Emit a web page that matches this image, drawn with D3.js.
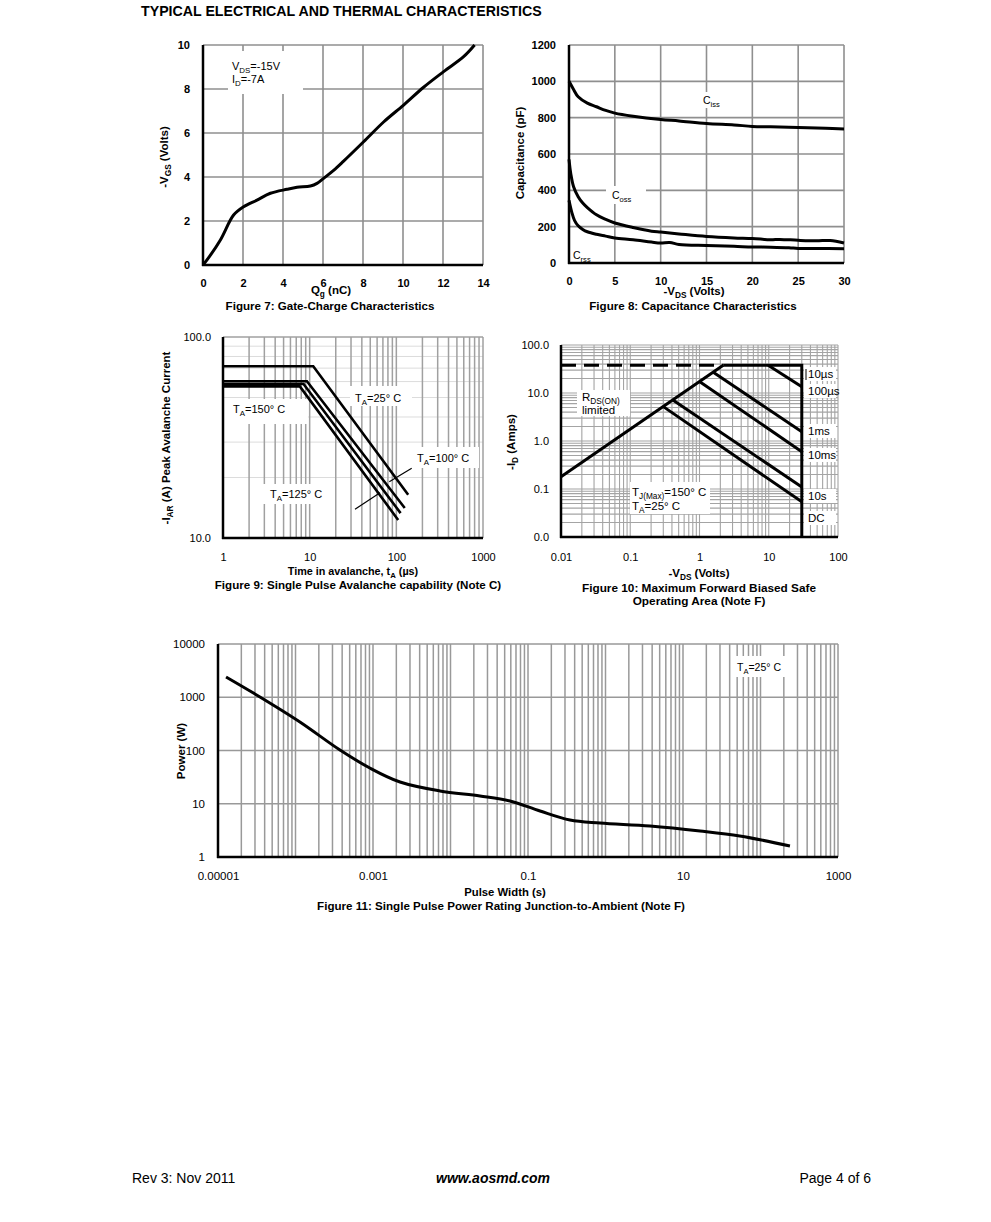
<!DOCTYPE html>
<html><head><meta charset="utf-8">
<script src="https://cdn.jsdelivr.net/npm/d3@7"></script>
<style>
body{margin:0;background:#fff;}
svg{display:block;}
text{white-space:pre;}
</style></head><body>
<svg id="c" width="991" height="1222"></svg>
<script>
// ---------------- DATA ----------------
// Figure 7: Gate charge
const fig7Qg  = [0, 0.2, 0.87, 1.53, 2.03, 2.7, 3.37, 4.2, 4.7, 5.37, 5.7, 6.03, 6.53, 7.03, 8.03, 9.03, 10.03, 11.03, 12.03, 13.03, 13.58];
const fig7Vgs = [0, 0.23, 1.14, 2.27, 2.65, 2.95, 3.26, 3.44, 3.53, 3.59, 3.71, 3.94, 4.3, 4.72, 5.6, 6.5, 7.27, 8.08, 8.79, 9.47, 10];
const fig7XTicks = [0, 2, 4, 6, 8, 10, 12, 14];
const fig7YTicks = [0, 2, 4, 6, 8, 10];

// Figure 8: Capacitance
const fig8CissV = [0, 0.5, 1, 2, 3, 4, 5, 7, 10, 12, 15, 18, 20, 22, 25, 28, 30];
const fig8Ciss  = [1000, 955, 915, 880, 860, 840, 825, 808, 790, 782, 768, 760, 752, 750, 746, 742, 738];
const fig8CossV = [0, 0.2, 0.5, 1, 1.5, 2, 3, 4, 5, 7, 9, 10, 12, 15, 18, 20, 22, 23, 25, 27, 28.5, 30];
const fig8Coss  = [570, 490, 420, 365, 330, 305, 265, 240, 220, 195, 175, 170, 160, 146, 138, 135, 128, 130, 125, 122, 124, 110];
const fig8CrssV = [0, 0.3, 0.6, 1, 1.5, 2, 3, 4, 5, 7, 9, 10, 11, 12, 15, 18, 20, 22, 24, 25, 27, 30];
const fig8Crss  = [345, 280, 235, 205, 185, 172, 158, 148, 138, 128, 115, 110, 113, 102, 96, 92, 88, 87, 84, 80, 80, 78];
const fig8XTicks = [0, 5, 10, 15, 20, 25, 30];
const fig8YTicks = [0, 200, 400, 600, 800, 1000, 1200];

// Figure 9: Avalanche (time us, current A)
const fig9Temps = ["25", "100", "125", "150"];
const fig9T = [[1, 11, 137], [1, 9.3, 125], [1, 8.5, 112], [1, 7.7, 105]];
const fig9I = [[71.5, 71.5, 16.4], [60.2, 60.2, 14.1], [58.4, 58.4, 13.3], [56.8, 56.8, 12.3]];
const fig9XTicks = [1, 10, 100, 1000];
const fig9XLabels = ["1", "10", "100", "1000"];
const fig9YTicks = [10, 100];
const fig9YLabels = ["10.0", "100.0"];

// Figure 10: SOA (V, A)
const fig10RdsV = [0.01, 2.2];
const fig10RdsI = [0.18, 38];
const fig10LimitI = 38;
const fig10VdsMax = 30;
const fig10Names = ["10µs", "100µs", "1ms", "10ms", "10s", "DC"];
const fig10LineV = [[9.8, 30], [1.58, 30], [1.01, 30], [0.417, 30], [0.3, 30]];
const fig10LineI = [[38, 13.5], [27, 1.56], [17.2, 0.6], [7.1, 0.11], [5.2, 0.054]];
const fig10Ticks = [0.01, 0.1, 1, 10, 100];
const fig10XLabels = ["0.01", "0.1", "1", "10", "100"];
const fig10YLabels = ["0.0", "0.1", "1.0", "10.0", "100.0"];

// Figure 11: Single pulse power
const fig11T = [1.27e-5, 3.48e-5, 1.14e-4, 3.75e-4, 9.1e-4, 2.23e-3, 7.3e-3, 0.024, 0.0586, 0.143, 0.348, 0.85, 3.75, 16.6, 54, 240];
const fig11P = [2400, 1011, 343, 102, 46.9, 25.6, 17.4, 14.0, 11.3, 7.3, 4.95, 4.35, 3.82, 3.08, 2.48, 1.61];
const fig11XTicks = [1e-5, 1e-3, 0.1, 10, 1000];
const fig11XLabels = ["0.00001", "0.001", "0.1", "10", "1000"];
const fig11YTicks = [1, 10, 100, 1000, 10000];
const fig11YLabels = ["1", "10", "100", "1000", "10000"];

// ---------------- HELPERS ----------------
const FONT = "'Liberation Sans', Arial, Helvetica, sans-serif";
const svg = d3.select("#c").attr("font-family", FONT);
svg.append("rect").attr("width", 991).attr("height", 1222).attr("fill", "#fff");
const CAP = 11.6;

function logMinor(lo, hi) {
  const out = [];
  for (let e = Math.floor(Math.log10(lo)); e <= Math.ceil(Math.log10(hi)); e++)
    for (let m = 1; m < 10; m++) {
      const v = +(m * Math.pow(10, e)).toPrecision(6);
      if (v >= lo * 0.999 && v <= hi * 1.001) out.push(v);
    }
  return out;
}
function vgrid(g, x, y, vals, color, w) {
  const [y0, y1] = y.range();
  g.append("g").selectAll("line").data(vals).join("line")
    .attr("x1", d => x(d)).attr("x2", d => x(d)).attr("y1", y0).attr("y2", y1)
    .attr("stroke", color).attr("stroke-width", w);
}
function hgrid(g, x, y, vals, color, w) {
  const [x0, x1] = x.range();
  g.append("g").selectAll("line").data(vals).join("line")
    .attr("y1", d => y(d)).attr("y2", d => y(d)).attr("x1", x0).attr("x2", x1)
    .attr("stroke", color).attr("stroke-width", w);
}
function whiteBox(g, x, y, w, h) {
  g.append("rect").attr("x", x).attr("y", y).attr("width", w).attr("height", h).attr("fill", "#fff");
}
function axes(g, x, y, xt, xl, yt, yl, o) {
  const ax = g.append("g").attr("transform", `translate(0,${y.range()[0]})`)
    .call(d3.axisBottom(x).tickValues(xt).tickFormat((d, i) => xl[i]).tickSize(0).tickPadding(o.xpad));
  const ay = g.append("g").attr("transform", `translate(${x.range()[0]},0)`)
    .call(d3.axisLeft(y).tickValues(yt).tickFormat((d, i) => yl[i]).tickSize(0).tickPadding(o.ypad));
  [ax, ay].forEach(a => {
    a.select(".domain").remove();
    a.attr("font-family", FONT).attr("font-size", o.fs).attr("font-weight", o.fw);
    a.selectAll("text").attr("fill", "#000");
  });
  const [x0, x1] = x.range(), [y0, y1] = y.range();
  g.append("line").attr("x1", x0).attr("x2", x0).attr("y1", y1).attr("y2", y0 + 1).attr("stroke", "#000").attr("stroke-width", 2.5);
  g.append("line").attr("x1", x0 - 1).attr("x2", x1).attr("y1", y0).attr("y2", y0).attr("stroke", "#000").attr("stroke-width", 2.5);
}
// parts: array of [text, isSub]
function rich(g, x, y, parts, fs, opts = {}) {
  const t = g.append("text").attr("x", x).attr("y", y).attr("font-size", fs)
    .attr("font-weight", opts.bold ? "bold" : "normal").attr("fill", "#000")
    .attr("text-anchor", opts.anchor || "start");
  if (opts.rotate) t.attr("transform", `rotate(-90,${x},${y})`);
  let shift = 0;
  const sd = opts.subDy !== undefined ? opts.subDy : fs * 0.3;
  parts.forEach(p => {
    const sub = !!p[1];
    const target = sub ? sd : 0;
    t.append("tspan").attr("dy", target - shift).attr("font-size", sub ? fs * 0.72 : fs).text(p[0]);
    shift = target;
  });
  return t;
}
function label(g, x, y, txt, fs, opts = {}) {
  return g.append("text").attr("x", x).attr("y", y).attr("font-size", fs)
    .attr("font-weight", opts.bold ? "bold" : "normal").attr("fill", "#000")
    .attr("text-anchor", opts.anchor || "start")
    .attr("font-style", opts.italic ? "italic" : "normal").text(txt);
}
const GRID = "#8f8f8f";
const smooth = d3.curveCatmullRom.alpha(0.5);

// ---------------- TITLE ----------------
label(svg, 141, 16, "TYPICAL ELECTRICAL AND THERMAL CHARACTERISTICS", 14.2, { bold: true });

// ---------------- FIGURE 7 ----------------
{
  const g = svg.append("g");
  const x = d3.scaleLinear([0, 14], [203, 483]);
  const y = d3.scaleLinear([0, 10], [265, 45]);
  vgrid(g, x, y, fig7XTicks.slice(1), GRID, 1.6);
  hgrid(g, x, y, fig7YTicks.slice(1), GRID, 1.6);
  whiteBox(g, 228, 51, 75, 43);
  rich(g, 232, 70, [["V"], ["DS", 1], ["=-15V"]], 11);
  rich(g, 232, 83, [["I"], ["D", 1], ["=-7A"]], 11);
  g.append("path").datum(fig7Qg.map((q, i) => [q, fig7Vgs[i]]))
    .attr("d", d3.line().x(d => x(d[0])).y(d => y(d[1])).curve(smooth))
    .attr("fill", "none").attr("stroke", "#000").attr("stroke-width", 3);
  axes(g, x, y, fig7XTicks, fig7XTicks.map(String), fig7YTicks, fig7YTicks.map(String), { xpad: 14, ypad: 13, fs: 11, fw: "bold" });
  rich(g, 331, 294, [["Q"], ["g", 1], [" (nC)"]], 11.5, { bold: true, anchor: "middle", subDy: 2.5 });
  label(g, 330, 309.5, "Figure 7: Gate-Charge Characteristics", CAP, { bold: true, anchor: "middle" });
  rich(g, 168, 157, [["-V"], ["GS", 1], [" (Volts)"]], 11.5, { bold: true, anchor: "middle", rotate: true });
}

// ---------------- FIGURE 8 ----------------
{
  const g = svg.append("g");
  const x = d3.scaleLinear([0, 30], [569, 844]);
  const y = d3.scaleLinear([0, 1200], [263, 45]);
  vgrid(g, x, y, fig8XTicks.slice(1), GRID, 1.6);
  hgrid(g, x, y, fig8YTicks.slice(1), GRID, 1.6);
  whiteBox(g, 606, 186, 40, 18);
  whiteBox(g, 698, 92, 28, 16);
  const line = d3.line().x(d => x(d[0])).y(d => y(d[1])).curve(smooth);
  [[fig8CissV, fig8Ciss], [fig8CossV, fig8Coss], [fig8CrssV, fig8Crss]].forEach(([vs, cs]) => {
    g.append("path").datum(vs.map((v, i) => [v, cs[i]])).attr("d", line)
      .attr("fill", "none").attr("stroke", "#000").attr("stroke-width", 3);
  });
  rich(g, 703, 104, [["C"], ["iss", 1]], 10.5);
  rich(g, 612, 199, [["C"], ["oss", 1]], 10.5);
  rich(g, 573, 259, [["C"], ["rss", 1]], 10.5);
  axes(g, x, y, fig8XTicks, fig8XTicks.map(String), fig8YTicks, fig8YTicks.map(String), { xpad: 14, ypad: 13, fs: 11, fw: "bold" });
  rich(g, 694, 295, [["-V"], ["DS", 1], [" (Volts)"]], 11.5, { bold: true, anchor: "middle", subDy: 2.5 });
  label(g, 693, 309.5, "Figure 8: Capacitance Characteristics", CAP, { bold: true, anchor: "middle" });
  label(g, 524, 153, "Capacitance (pF)", 11.5, { bold: true, anchor: "middle" }).attr("transform", "rotate(-90,524,153)");
}

// ---------------- FIGURE 9 ----------------
{
  const g = svg.append("g");
  const x = d3.scaleLog([1, 1000], [223, 483]);
  const y = d3.scaleLog([10, 100], [538, 337]);
  hgrid(g, x, y, logMinor(10, 100).filter(v => v > 10 && v < 100), "#dcdcdc", 1);
  hgrid(g, x, y, [100], "#a0a0a0", 1.5);
  vgrid(g, x, y, logMinor(1, 1000).filter(v => v > 1), "#a0a0a0", 1.5);
  whiteBox(g, 350, 386, 62, 20);
  whiteBox(g, 224, 399, 84, 25);
  whiteBox(g, 411, 447, 68, 21);
  whiteBox(g, 262, 484, 72, 20);
  const line = d3.line().x(d => x(d[0])).y(d => y(d[1]));
  fig9Temps.forEach((t, k) => {
    g.append("path").datum(fig9T[k].map((v, i) => [v, fig9I[k][i]])).attr("d", line)
      .attr("fill", "none").attr("stroke", "#000").attr("stroke-width", 2.6);
  });
  g.append("line").attr("x1", 411.7).attr("y1", 468.3).attr("x2", 389.3).attr("y2", 481.7).attr("stroke", "#000").attr("stroke-width", 1.2);
  g.append("line").attr("x1", 355).attr("y1", 509.3).attr("x2", 380).attr("y2", 492.7).attr("stroke", "#000").attr("stroke-width", 1.2);
  rich(g, 355, 402, [["T"], ["A", 1], ["=25° C"]], 11);
  rich(g, 233, 413, [["T"], ["A", 1], ["=150° C"]], 11);
  rich(g, 417, 462, [["T"], ["A", 1], ["=100° C"]], 11);
  rich(g, 270, 498, [["T"], ["A", 1], ["=125° C"]], 11);
  axes(g, x, y, fig9XTicks, fig9XLabels, fig9YTicks, fig9YLabels, { xpad: 15, ypad: 12, fs: 11, fw: "normal" });
  rich(g, 353, 575, [["Time in avalanche, t"], ["A", 1], [" (µs)"]], 10.8, { bold: true, anchor: "middle" });
  label(g, 358, 589, "Figure 9: Single Pulse Avalanche capability (Note C)", CAP, { bold: true, anchor: "middle" });
  rich(g, 170, 438, [["-I"], ["AR", 1], [" (A) Peak Avalanche Current"]], 11.5, { bold: true, anchor: "middle", rotate: true });
}

// ---------------- FIGURE 10 ----------------
{
  const g = svg.append("g");
  const x = d3.scaleLog([0.01, 100], [561, 838]);
  const y = d3.scaleLog([0.01, 100], [537, 345]);
  const minors = logMinor(0.01, 100).filter(v => v > 0.01);
  vgrid(g, x, y, minors, "#a4a4a4", 1.1);
  hgrid(g, x, y, minors, "#a4a4a4", 1.1);
  whiteBox(g, 577, 390, 53, 26);
  whiteBox(g, 630, 482, 80, 32);
  const lblY = [378, 395, 435, 459, 500, 522];
  lblY.forEach(b => whiteBox(g, 804, b - 11, 32, 14));
  const line = d3.line().x(d => x(d[0])).y(d => y(d[1]));
  const sw = 3;
  // RDS(on) limit
  g.append("path").datum(fig10RdsV.map((v, i) => [v, fig10RdsI[i]])).attr("d", line)
    .attr("fill", "none").attr("stroke", "#000").attr("stroke-width", sw);
  // dashed current limit
  g.append("path").datum([[0.01, fig10LimitI], [fig10RdsV[1], fig10LimitI]]).attr("d", line)
    .attr("fill", "none").attr("stroke", "#000").attr("stroke-width", sw).attr("stroke-dasharray", "15,8");
  // solid current limit and VDS max
  g.append("path").datum([[fig10RdsV[1], fig10LimitI], [fig10VdsMax, fig10LimitI], [fig10VdsMax, 0.01]]).attr("d", line)
    .attr("fill", "none").attr("stroke", "#000").attr("stroke-width", sw);
  fig10LineV.forEach((vs, k) => {
    g.append("path").datum(vs.map((v, i) => [v, fig10LineI[k][i]])).attr("d", line)
      .attr("fill", "none").attr("stroke", "#000").attr("stroke-width", sw);
  });
  g.append("line").attr("x1", 806).attr("x2", 806).attr("y1", 369).attr("y2", 380).attr("stroke", "#000").attr("stroke-width", 1);
  fig10Names.forEach((n, i) => label(g, 808, lblY[i], n, 11.5));
  rich(g, 582, 401, [["R"], ["DS(ON)", 1]], 11.5, { subDy: 2.5 });
  label(g, 582, 414, "limited", 11.5);
  rich(g, 632, 496, [["T"], ["J(Max)", 1], ["=150° C"]], 11.5, { subDy: 2.5 });
  rich(g, 632, 510, [["T"], ["A", 1], ["=25° C"]], 11.5, { subDy: 2.5 });
  axes(g, x, y, fig10Ticks, fig10XLabels, fig10Ticks, fig10YLabels, { xpad: 16, ypad: 12, fs: 11, fw: "normal" });
  rich(g, 699, 577, [["-V"], ["DS", 1], [" (Volts)"]], 11.5, { bold: true, anchor: "middle" });
  label(g, 699, 592, "Figure 10: Maximum Forward Biased Safe", 11.8, { bold: true, anchor: "middle" });
  label(g, 699, 605, "Operating Area (Note F)", 11.8, { bold: true, anchor: "middle" });
  rich(g, 515, 442, [["-I"], ["D", 1], [" (Amps)"]], 11.5, { bold: true, anchor: "middle", rotate: true });
}

// ---------------- FIGURE 11 ----------------
{
  const g = svg.append("g");
  const x = d3.scaleLog([1e-5, 1000], [218, 838]);
  const y = d3.scaleLog([1, 10000], [857, 644]);
  vgrid(g, x, y, logMinor(1e-5, 1000).filter(v => v > 1e-5), "#999", 1.5);
  hgrid(g, x, y, fig11YTicks.slice(1), "#999", 1.5);
  whiteBox(g, 736, 656, 57, 21);
  rich(g, 737, 671, [["T"], ["A", 1], ["=25° C"]], 10.5);
  g.append("path").datum(fig11T.map((t, i) => [t, fig11P[i]]))
    .attr("d", d3.line().x(d => x(d[0])).y(d => y(d[1])).curve(smooth))
    .attr("fill", "none").attr("stroke", "#000").attr("stroke-width", 3);
  axes(g, x, y, fig11XTicks, fig11XLabels, fig11YTicks, fig11YLabels, { xpad: 15, ypad: 13, fs: 11.5, fw: "normal" });
  label(g, 505, 896, "Pulse Width (s)", 11.3, { bold: true, anchor: "middle" });
  label(g, 501, 910, "Figure 11: Single Pulse Power Rating Junction-to-Ambient (Note F)", CAP, { bold: true, anchor: "middle" });
  label(g, 185, 751, "Power (W)", 11.5, { bold: true, anchor: "middle" }).attr("transform", "rotate(-90,185,751)");
}

// ---------------- FOOTER ----------------
label(svg, 132, 1183, "Rev 3: Nov 2011", 14);
label(svg, 493, 1183, "www.aosmd.com", 14, { bold: true, italic: true, anchor: "middle" });
label(svg, 871, 1183, "Page 4 of 6", 14, { anchor: "end" });
</script>
</body></html>
